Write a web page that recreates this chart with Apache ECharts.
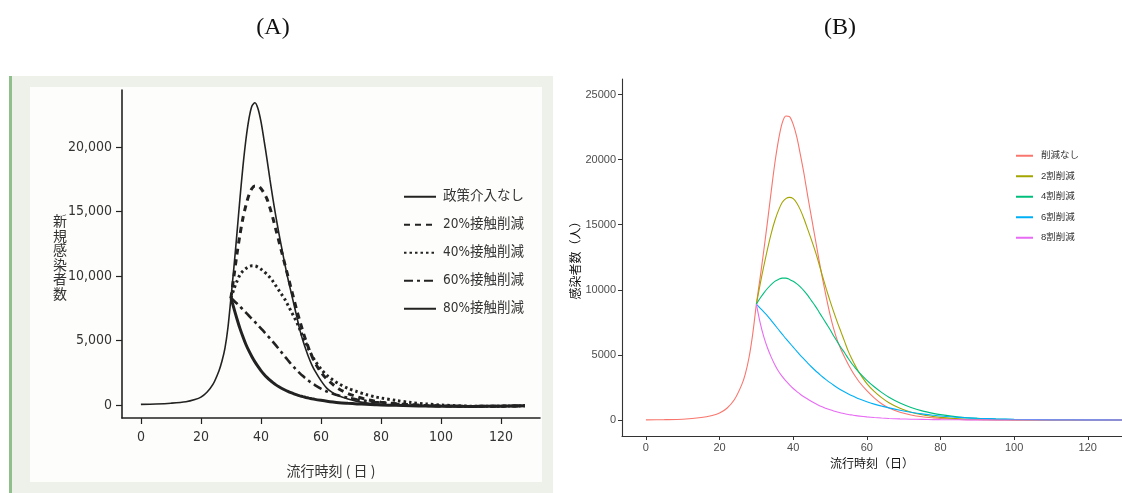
<!DOCTYPE html>
<html>
<head>
<meta charset="utf-8">
<script src="https://cdn.jsdelivr.net/npm/echarts@6/dist/echarts.min.js"></script>
<style>
  html, body { margin: 0; padding: 0; background: #fff; }
  #chart { width: 1122px; height: 493px; }
</style>
</head>
<body>
<div id="chart"></div>
<script>
// 日数（パネルA / パネルB）
const daysA = [0, 5, 10, 15, 18, 20, 22, 24, 26, 27, 28, 29, 30, 31, 32, 33, 34, 35, 36, 37, 38, 39, 40, 41, 42, 43, 44, 45, 46, 47, 48, 49, 50, 51, 52, 53, 54, 55, 56, 57, 58, 60, 62, 64, 66, 69, 72, 75, 78, 80, 85, 90, 95, 100, 110, 120, 128];
const daysB = [0, 5, 10, 15, 18, 20, 22, 24, 26, 27, 28, 29, 30, 31, 32, 33, 34, 35, 36, 37, 38, 39, 40, 41, 42, 43, 44, 45, 46, 47, 48, 49, 50, 51, 52, 53, 54, 55, 56, 57, 58, 60, 62, 64, 66, 69, 72, 75, 78, 80, 85, 90, 95, 100, 110, 120, 130];
const pre = [null, null, null, null, null, null, null, null, null, null, null, null];

// (A) 新規感染者数
const namesA = ['政策介入なし', '20%接触削減', '40%接触削減', '60%接触削減', '80%接触削減'];
const a0 = [60, 90, 150, 260, 430, 620, 1000, 1600, 2650, 3400, 4400, 6000, 8300, 10700, 13300, 16000, 18500, 20600, 22200, 23200, 23450, 23000, 22000, 20600, 19100, 17500, 16000, 14600, 13300, 12100, 10900, 9800, 8800, 7800, 6800, 5800, 5000, 4300, 3650, 3100, 2650, 1900, 1300, 950, 700, 470, 290, 170, 90, 50, 0, -40, -70, -90, -100, -80, -50];
const a20 = pre.concat([8300, 10000, 11700, 13200, 14500, 15500, 16300, 16800, 17000, 17000, 16800, 16450, 16000, 15300, 14500, 13600, 12700, 11800, 10900, 10000, 9100, 8200, 7300, 6500, 5700, 5000, 4350, 3800, 3300, 2550, 2000, 1600, 1250, 900, 650, 450, 300, 230, 110, 30, -30, -70, -100, -80, -50]);
const a40 = pre.concat([8300, 9000, 9600, 10100, 10400, 10600, 10750, 10800, 10800, 10700, 10550, 10350, 10150, 9900, 9600, 9250, 8900, 8550, 8200, 7750, 7300, 6850, 6400, 5850, 5300, 4800, 4300, 3850, 3450, 2800, 2300, 1950, 1650, 1300, 1050, 820, 640, 550, 360, 200, 90, 10, -80, -80, -50]);
const a60 = pre.concat([8300, 8100, 7880, 7650, 7410, 7170, 6930, 6690, 6450, 6200, 5950, 5700, 5440, 5180, 4910, 4630, 4340, 4050, 3760, 3480, 3200, 2940, 2690, 2460, 2250, 2050, 1870, 1700, 1550, 1280, 1060, 880, 740, 570, 440, 330, 240, 190, 100, 30, -20, -60, -90, -80, -50]);
const a80 = pre.concat([8300, 7500, 6700, 5950, 5300, 4700, 4200, 3750, 3350, 3000, 2680, 2400, 2150, 1930, 1740, 1570, 1420, 1290, 1170, 1060, 960, 870, 790, 720, 655, 595, 540, 490, 445, 370, 300, 240, 190, 140, 95, 60, 30, 10, -20, -50, -70, -90, -100, -80, -50]);

// (B) 感染者数（人）
const namesB = ['削減なし', '2割削減', '4割削減', '6割削減', '8割削減'];
const b0 = [10, 25, 60, 190, 350, 530, 900, 1550, 2700, 3550, 4800, 6600, 8900, 10900, 13000, 15200, 17500, 19700, 21500, 22800, 23350, 23300, 22700, 21700, 20300, 18800, 17100, 15500, 13900, 12300, 10800, 9400, 8100, 7000, 6100, 5400, 4800, 4250, 3750, 3300, 2900, 2250, 1700, 1250, 920, 600, 390, 250, 160, 115, 50, 22, 10, 5, 2, 1, 0];
const b2 = pre.concat([8900, 10400, 11800, 13100, 14300, 15300, 16100, 16700, 17000, 17100, 17000, 16650, 16100, 15400, 14600, 13800, 12950, 12000, 11000, 10050, 9150, 8300, 7500, 6750, 6000, 5250, 4650, 4100, 3600, 2800, 2200, 1720, 1330, 900, 600, 400, 270, 200, 100, 45, 22, 10, 3, 1, 0]);
const b4 = pre.concat([8900, 9350, 9750, 10100, 10400, 10650, 10800, 10900, 10900, 10800, 10650, 10450, 10200, 9900, 9550, 9150, 8750, 8300, 7850, 7400, 6950, 6450, 6000, 5550, 5150, 4700, 4300, 3950, 3620, 3050, 2550, 2120, 1750, 1300, 960, 700, 510, 410, 230, 130, 75, 42, 13, 4, 1]);
const b6 = pre.concat([8900, 8600, 8300, 8000, 7650, 7300, 6950, 6600, 6250, 5920, 5600, 5270, 4950, 4650, 4350, 4070, 3800, 3550, 3300, 3080, 2870, 2670, 2480, 2310, 2150, 2000, 1860, 1730, 1610, 1400, 1220, 1070, 930, 750, 600, 470, 370, 310, 200, 130, 85, 55, 22, 9, 3]);
const b8 = pre.concat([8900, 7500, 6400, 5550, 4850, 4250, 3750, 3350, 3000, 2700, 2420, 2180, 1960, 1770, 1600, 1420, 1260, 1120, 1000, 880, 780, 690, 610, 540, 480, 425, 380, 335, 300, 240, 190, 150, 120, 85, 60, 45, 32, 26, 15, 8, 5, 3, 1, 0, 0]);

const ticksX = [0, 20, 40, 60, 80, 100, 120];
const ticksYA = [0, 5000, 10000, 15000, 20000];
const ticksYB = [0, 5000, 10000, 15000, 20000, 25000];

const coloursB = ['#F8766D', '#A3A500', '#00BF7D', '#00B0F6', '#E76BF3'];
const stylesA = [
  { width: 1.6, type: 'solid' },
  { width: 3, type: [6, 5] },
  { width: 3, type: [2.5, 3] },
  { width: 2.6, type: [9, 4, 3, 4] },
  { width: 3, type: 'solid' }
];

function pairs(days, vals) {
  return days.map((d, i) => [d, vals[i]]);
}

const fontA = '"DejaVu Sans Condensed", "Liberation Sans Narrow", "Liberation Sans", "Noto Sans CJK JP", sans-serif';
const fontCJK = '"Noto Sans CJK JP", sans-serif';
const fontB = '"Liberation Sans", Arial, "Noto Sans CJK JP", sans-serif';

const chart = echarts.init(document.getElementById('chart'), null, { renderer: 'canvas' });

const seriesA = [a0, a20, a40, a60, a80].map((vals, i) => ({
  name: namesA[i],
  type: 'line',
  xAxisIndex: 0,
  yAxisIndex: 0,
  data: pairs(daysA, vals),
  smooth: 0.3,
  symbol: 'none',
  lineStyle: { color: '#222', width: stylesA[i].width, type: stylesA[i].type, cap: 'butt' },
  itemStyle: { color: '#222' },
  z: 5 - i
}));

const seriesB = [b0, b2, b4, b6, b8].map((vals, i) => ({
  name: namesB[i],
  type: 'line',
  xAxisIndex: 1,
  yAxisIndex: 1,
  data: pairs(daysB, vals),
  smooth: 0.3,
  symbol: 'none',
  lineStyle: { color: coloursB[i], width: 1.1 },
  itemStyle: { color: coloursB[i] },
  z: 3
}));

chart.setOption({
  animation: false,
  backgroundColor: '#fff',
  graphic: {
    elements: [
      { type: 'rect', z: -20, shape: { x: 9, y: 76, width: 544, height: 417 }, style: { fill: '#eef1ea' }, silent: true },
      { type: 'rect', z: -20, shape: { x: 9, y: 76, width: 3, height: 417 }, style: { fill: '#8fbf8a' }, silent: true },
      { type: 'rect', z: -19, shape: { x: 30, y: 87, width: 512, height: 395 }, style: { fill: '#fdfdfb' }, silent: true },
      { type: 'text', z: 10, x: 273, y: 28, style: { text: '(A)', font: '24px "Liberation Serif", "DejaVu Serif", serif', fill: '#111', align: 'center', verticalAlign: 'middle' } },
      { type: 'text', z: 10, x: 840, y: 28, style: { text: '(B)', font: '24px "Liberation Serif", "DejaVu Serif", serif', fill: '#111', align: 'center', verticalAlign: 'middle' } },
      { type: 'text', z: 10, x: 60, y: 257, style: { text: '新\n規\n感\n染\n者\n数', font: '14px ' + fontCJK, lineHeight: 14.5, fill: '#333', align: 'center', verticalAlign: 'middle' } }
    ]
  },
  legend: [
    {
      data: namesA,
      orient: 'vertical',
      left: 398,
      top: 185,
      itemWidth: 32,
      itemHeight: 14,
      itemGap: 14.5,
      itemStyle: { opacity: 0 },
      textStyle: { fontFamily: fontA, fontSize: 13.5, color: '#333', padding: [0, 0, 0, 2] }
    },
    {
      data: namesB,
      orient: 'vertical',
      left: 1010,
      top: 146,
      itemWidth: 17,
      itemHeight: 10,
      itemGap: 11,
      itemStyle: { opacity: 0 },
      textStyle: { fontFamily: fontB, fontSize: 9.5, color: '#333', padding: [0, 0, 0, 3] }
    }
  ],
  grid: [
    { left: 122, right: 582, top: 90, bottom: 75, containLabel: false },
    { left: 622, right: 0, top: 79, bottom: 57, containLabel: false }
  ],
  xAxis: [
    {
      type: 'value', gridIndex: 0, min: -6.3, max: 133,
      name: '流行時刻 ( 日 )', nameLocation: 'middle', nameGap: 46,
      nameTextStyle: { fontFamily: fontCJK, fontSize: 14, color: '#333' },
      axisLine: { onZero: false, lineStyle: { color: '#222', width: 1.6 } },
      axisTick: { customValues: ticksX, length: 6, lineStyle: { color: '#222', width: 1.2 } },
      axisLabel: { customValues: ticksX, margin: 12, fontFamily: fontA, fontSize: 14, color: '#333' },
      splitLine: { show: false }
    },
    {
      type: 'value', gridIndex: 1, min: -6.5, max: 129.3,
      name: '流行時刻（日）', nameLocation: 'middle', nameGap: 21,
      nameTextStyle: { fontFamily: fontCJK, fontSize: 12, color: '#111' },
      axisLine: { onZero: false, lineStyle: { color: '#333', width: 1.1 } },
      axisTick: { customValues: ticksX, length: 4, lineStyle: { color: '#333' } },
      axisLabel: { customValues: ticksX, margin: 6, fontFamily: fontB, fontSize: 11, color: '#4d4d4d' },
      splitLine: { show: false }
    }
  ],
  yAxis: [
    {
      type: 'value', gridIndex: 0, min: -1000, max: 24440,
      axisLine: { show: true, onZero: false, lineStyle: { color: '#222', width: 1.6 } },
      axisTick: { show: true, customValues: ticksYA, length: 6, lineStyle: { color: '#222', width: 1.2 } },
      axisLabel: {
        customValues: ticksYA, margin: 10, fontFamily: fontA, fontSize: 14, color: '#333',
        formatter: v => v.toLocaleString('en-US')
      },
      splitLine: { show: false }
    },
    {
      type: 'value', gridIndex: 1, min: -1229, max: 26190,
      name: '感染者数（人）', nameLocation: 'middle', nameGap: 41, nameRotate: 90,
      nameTextStyle: { fontFamily: fontCJK, fontSize: 12, color: '#111' },
      axisLine: { show: true, onZero: false, lineStyle: { color: '#333', width: 1.1 } },
      axisTick: { show: true, customValues: ticksYB, length: 4, lineStyle: { color: '#333' } },
      axisLabel: { customValues: ticksYB, margin: 6, fontFamily: fontB, fontSize: 11, color: '#4d4d4d', formatter: v => String(v) },
      splitLine: { show: false }
    }
  ],
  series: seriesA.concat(seriesB)
});
</script>
</body>
</html>
